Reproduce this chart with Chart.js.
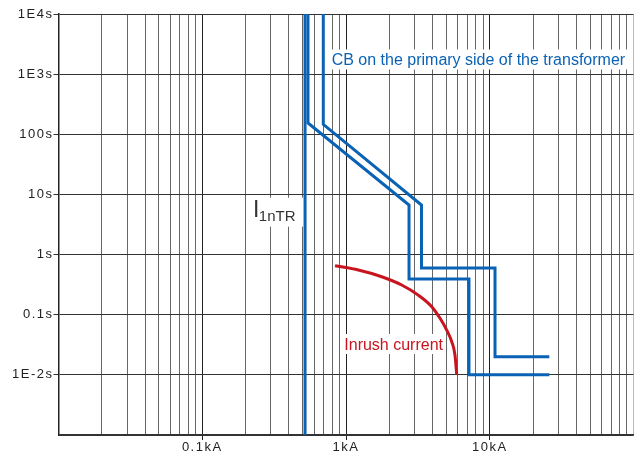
<!DOCTYPE html>
<html><head><meta charset="utf-8">
<script src="https://cdn.jsdelivr.net/npm/chart.js@4/dist/chart.umd.min.js"></script>
<style>html,body{margin:0;padding:0;background:#fff;}#c{display:block;}</style>
</head><body>
<canvas id="c" width="634" height="455"></canvas>
<script>
// ---- axis ticks ----
const xGridValues = [0.01,0.02,0.03,0.04,0.05,0.06,0.07,0.08,0.09,
                     0.1,0.2,0.3,0.4,0.5,0.6,0.7,0.8,0.9,
                     1,2,3,4,5,6,7,8,9,
                     10,20,30,40,50,60,70,80,90,100];
const xLabelValues = [0.1, 1, 10];
const xLabelTexts  = ['0.1kA', '1kA', '10kA'];
const yGridValues  = [0.001, 0.01, 0.1, 1, 10, 100, 1000, 10000];
const yLabelTexts  = ['', '1E-2s', '0.1s', '1s', '10s', '100s', '1E3s', '1E4s'];

// ---- series (current in kA, time in s) ----
const cbMinCurrent = [0.544, 0.544, 2.744, 2.744, 7.17, 7.17, 25.96];
const cbMinTime    = [10000, 154, 6.67, 0.393, 0.393, 0.01, 0.01];
const cbMaxCurrent = [0.695, 0.695, 3.35, 3.35, 10.88, 10.88, 25.96];
const cbMaxTime    = [10000, 146, 6.67, 0.598, 0.598, 0.02, 0.02];
const i1nCurrent   = [0.519, 0.519];
const i1nTime      = [10000, 0.001];
const inrushCurrent = [0.839, 1.218, 1.772, 2.44, 3.18, 3.95, 4.51, 5.02, 5.44, 5.73, 5.89];
const inrushTime    = [0.653, 0.553, 0.428, 0.312, 0.212, 0.136, 0.0871, 0.0556, 0.0356, 0.0214, 0.01];

// ---- text labels (anchored in data units) ----
const cbLabel = {text: 'CB on the primary side of the transformer', x: 0.795, y: 1393};
const inrushLabel = {text: 'Inrush current', x: 0.973, y: 0.0259};
const i1nLabel = {main: 'I', sub: '1nTR', x: 0.229, y: 4.26};

const BLUE = '#0a62b4';
const RED = '#c8141e';

function pts(xs, ys){ return xs.map((v,i)=>({x:v, y:ys[i]})); }
function findIdx(arr, v){ return arr.findIndex(a => Math.abs(a - v) / a < 1e-6); }
function isLabeledX(v){ return findIdx(xLabelValues, v) >= 0; }
function isLabeledY(v){ const i = findIdx(yGridValues, v); return i >= 0 && yLabelTexts[i] !== ''; }

Chart.defaults.font.family = '"Liberation Sans", Arial, Helvetica, sans-serif';

const labelPlugin = {
  id: 'labels',
  beforeDraw(chart){ chart.ctx.letterSpacing = '1.5px'; },
  beforeDatasetsDraw(chart){
    const ctx = chart.ctx, xs = chart.scales.x, ys = chart.scales.y;
    ctx.save();
    ctx.letterSpacing = '0px';
    ctx.textBaseline = 'alphabetic';
    ctx.textAlign = 'left';
    function boxed(lbl, color){
      ctx.font = '16px "Liberation Sans", Arial, sans-serif';
      const px = xs.getPixelForValue(lbl.x), py = ys.getPixelForValue(lbl.y);
      const w = ctx.measureText(lbl.text).width;
      ctx.fillStyle = '#fff';
      ctx.fillRect(px - 3, py - 16, w + 6, 20);
      ctx.fillStyle = color;
      ctx.fillText(lbl.text, px, py);
    }
    boxed(cbLabel, BLUE);
    boxed(inrushLabel, RED);
    // I1nTR
    const ix = xs.getPixelForValue(i1nLabel.x), iy = ys.getPixelForValue(i1nLabel.y);
    ctx.font = '23px "Liberation Sans", Arial, sans-serif';
    const wI = ctx.measureText(i1nLabel.main).width;
    ctx.font = '15px "Liberation Sans", Arial, sans-serif';
    const wS = ctx.measureText(i1nLabel.sub).width;
    ctx.fillStyle = '#fff';
    ctx.fillRect(ix - 6, iy - 19, wI + wS + 12, 29);
    ctx.fillStyle = '#333';
    ctx.font = '23px "Liberation Sans", Arial, sans-serif';
    ctx.fillText(i1nLabel.main, ix - 1, iy);
    ctx.font = '15px "Liberation Sans", Arial, sans-serif';
    ctx.fillText(i1nLabel.sub, ix - 1 + wI - 0.5, iy + 4);
    ctx.restore();
  }
};

new Chart(document.getElementById('c').getContext('2d'), {
  type: 'line',
  data: {
    datasets: [
      {data: pts(i1nCurrent, i1nTime), borderColor: BLUE, borderWidth: 3},
      {data: pts(cbMinCurrent, cbMinTime), borderColor: BLUE, borderWidth: 3},
      {data: pts(cbMaxCurrent, cbMaxTime), borderColor: BLUE, borderWidth: 3},
      {data: pts(inrushCurrent, inrushTime), borderColor: RED, borderWidth: 3, cubicInterpolationMode: 'monotone'}
    ]
  },
  options: {
    responsive: false, animation: false, devicePixelRatio: 1,
    layout: {padding: {top: 14, right: 0.5, left: 0, bottom: 0}},
    plugins: {legend: {display: false}, tooltip: {enabled: false}},
    elements: {point: {radius: 0}, line: {borderCapStyle: 'butt', borderJoinStyle: 'miter', fill: false}},
    scales: {
      x: {
        type: 'logarithmic', min: 0.01, max: 100,
        afterBuildTicks: s => { s.ticks = xGridValues.map(v => ({value: v})); },
        afterFit: s => { s.height = 20; },
        grid: {
          color: c => (c.tick && isLabeledX(c.tick.value)) ? '#222' : (c.tick && c.tick.value >= 99 ? '#bbb' : '#666'),
          lineWidth: 1, tickLength: 5,
          tickColor: c => (c.tick && isLabeledX(c.tick.value)) ? '#222' : 'rgba(0,0,0,0)'
        },
        border: {color: '#333', width: 1.5},
        ticks: {
          autoSkip: false, maxRotation: 0, minRotation: 0, padding: 0, color: '#222',
          font: {size: 13},
          callback: v => { const i = findIdx(xLabelValues, v); return i >= 0 ? xLabelTexts[i] : ''; }
        }
      },
      y: {
        type: 'logarithmic', min: 0.001, max: 10000,
        afterBuildTicks: s => { s.ticks = yGridValues.map(v => ({value: v})); },
        afterFit: s => { s.width = 58.5; },
        grid: {
          color: '#333', lineWidth: 1, tickLength: 5,
          tickColor: c => (c.tick && isLabeledY(c.tick.value)) ? '#333' : 'rgba(0,0,0,0)'
        },
        border: {color: '#222', width: 1.5},
        ticks: {
          autoSkip: false, padding: 0, color: '#222', font: {size: 13},
          callback: v => { const i = findIdx(yGridValues, v); return i >= 0 ? yLabelTexts[i] : ''; }
        }
      }
    }
  },
  plugins: [labelPlugin]
});
</script>
</body></html>
